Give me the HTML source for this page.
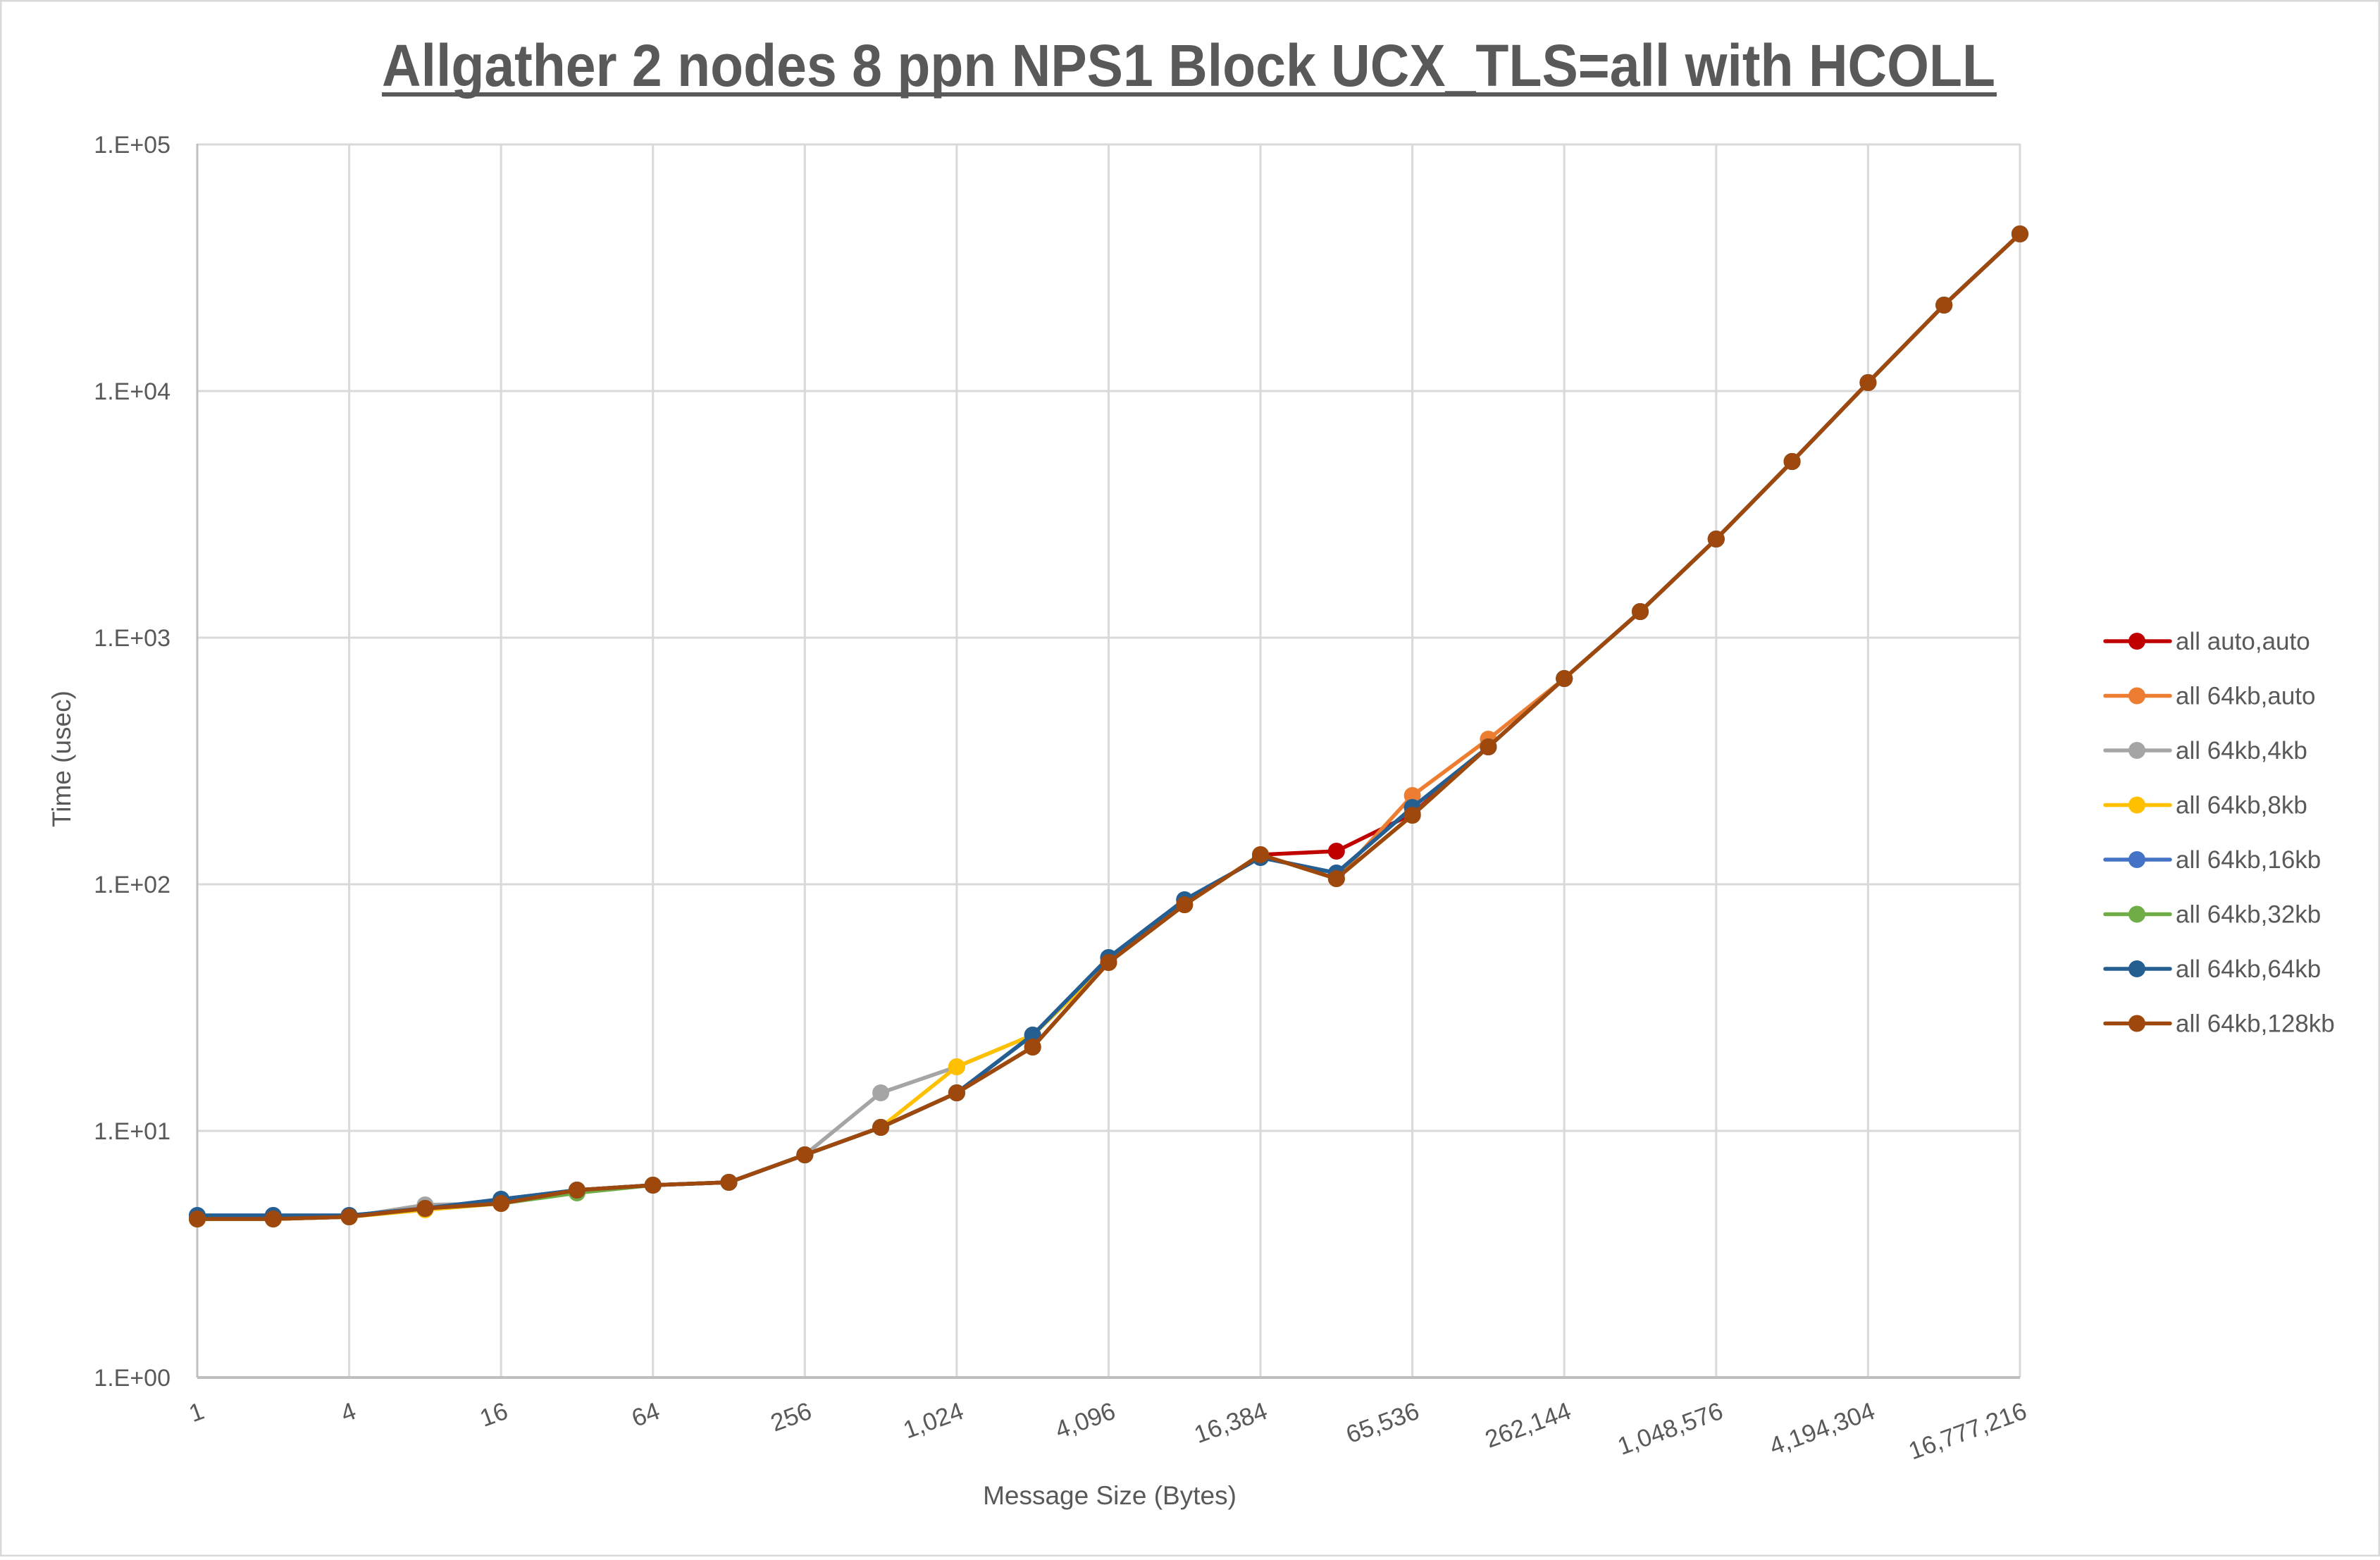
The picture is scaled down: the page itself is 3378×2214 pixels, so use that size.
<!DOCTYPE html>
<html><head><meta charset="utf-8"><style>
body{margin:0;background:#fff}
svg text{font-family:"Liberation Sans",sans-serif;fill:#595959}
</style></head><body>
<svg id="s" width="3378" height="2209" viewBox="0 0 3378 2209" xmlns="http://www.w3.org/2000/svg">
<rect x="1" y="1" width="3376" height="2207" fill="#fff" stroke="#d9d9d9" stroke-width="3"/>
<g id="grid" stroke="#d9d9d9" stroke-width="3"></g>
<text x="1687" y="122" font-size="84" font-weight="bold" text-anchor="middle" textLength="2290" lengthAdjust="spacingAndGlyphs">Allgather 2 nodes 8 ppn NPS1 Block UCX_TLS=all with HCOLL</text>
<rect x="542" y="131" width="2292" height="6" fill="#595959"/>
<g id="ylab" font-size="34" text-anchor="end"></g>
<g id="xlab" font-size="35"></g>
<text x="1575" y="2135" font-size="37" text-anchor="middle">Message Size (Bytes)</text>
<text transform="translate(100,1077) rotate(-90)" font-size="37" text-anchor="middle">Time (usec)</text>
<g id="series"></g>
<g id="legend"></g>
</svg>
<script>
const NS="http://www.w3.org/2000/svg";
function el(p,t,a,txt){const e=document.createElementNS(NS,t);for(const k in a)e.setAttribute(k,a[k]);if(txt)e.textContent=txt;document.getElementById(p).appendChild(e);return e;}
const X=i=>280+107.79*i;
for(let d=0;d<=5;d++){const y=1955-350*d;el('grid','line',{x1:280,x2:2867,y1:y,y2:y});
el('ylab','text',{x:242,y:y+12},'1.E+0'+d);}
for(let k=0;k<=12;k++){const x=X(2*k);el('grid','line',{x1:x,x2:x,y1:204,y2:1955});}
el('grid','line',{x1:280,x2:2867,y1:1955,y2:1955,stroke:'#bfbfbf','stroke-width':4});
el('grid','line',{x1:280,x2:280,y1:204,y2:1955,stroke:'#bfbfbf'});
const xl=['1','4','16','64','256','1,024','4,096','16,384','65,536','262,144','1,048,576','4,194,304','16,777,216'];
xl.forEach((t,k)=>{const x=X(2*k);el('xlab','text',{transform:`translate(${x+12},${2012}) rotate(-20)`,'text-anchor':'end'},t);});
const brown=[1730,1730,1727,1715,1708,1689,1682,1678,1639,1600,1551,1486,1366,1284,1213,1247,1157,1060,963,868,765,655,543,433,332];
function mod(ch){const a=brown.slice();for(const k in ch)a[k]=ch[k];return a;}
const blueBase={0:1725,1:1725,2:1725,4:1702,11:1469,12:1359,13:1277,14:1217,15:1239,16:1146};
const S=[
['all auto,auto','#c00000',mod({15:1208,16:1155})],
['all 64kb,auto','#ed7d31',mod({16:1129,17:1049})],
['all 64kb,4kb','#a5a5a5',mod({3:1710,9:1551,10:1514,11:1469})],
['all 64kb,8kb','#ffc000',mod({3:1717,10:1514,11:1469})],
['all 64kb,16kb','#4472c4',mod(blueBase)],
['all 64kb,32kb','#70ad47',mod({5:1693})],
['all 64kb,64kb','#255e91',mod(blueBase)],
['all 64kb,128kb','#9e480e',brown]];
S.forEach((s,j)=>{
 el('series','polyline',{points:s[2].map((y,i)=>X(i)+','+y).join(' '),fill:'none',stroke:s[1],'stroke-width':5.5,'stroke-linejoin':'round'});
 s[2].forEach((y,i)=>el('series','circle',{cx:X(i),cy:y,r:12,fill:s[1]}));
 const ly=910+77.5*j;
 el('legend','line',{x1:2988,x2:3080,y1:ly,y2:ly,stroke:s[1],'stroke-width':5.5,'stroke-linecap':'round'});
 el('legend','circle',{cx:3033,cy:ly,r:12,fill:s[1]});
 el('legend','text',{x:3088,y:ly+12,'font-size':35},s[0]);
});
</script>
</body></html>
